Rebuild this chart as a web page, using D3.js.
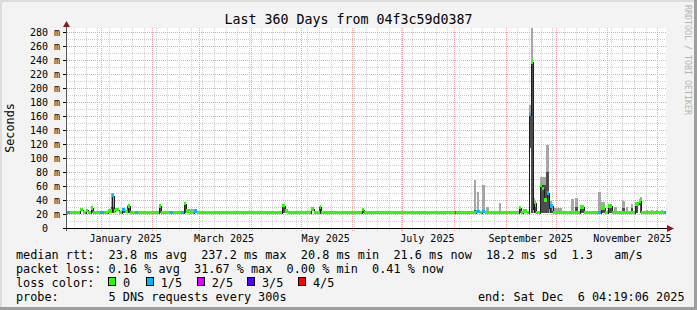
<!DOCTYPE html>
<html>
<head>
<meta charset="utf-8">
<script src="https://cdn.jsdelivr.net/npm/d3@7"></script>
<style>
  body { margin: 0; background: #fff; }
  text { font-family: "DejaVu Sans Mono", monospace; }
</style>
</head>
<body>
<svg id="chart" width="697" height="310"></svg>
<script>
// median rtt, step segments: start day (offset from graph start), value in ms, loss index
const medDay = [0, 2.4, 8.4, 10.2, 12, 13.2, 14.7, 15.9, 20.4, 22.8,
  25.2, 27.3, 28.5, 29.4, 31.8, 33.6, 35.1, 36.9, 38.1, 41.4,
  43.2, 55.8, 57, 62.4, 63.9, 69, 70.8, 72, 74.4, 76.8,
  78.3, 129.6, 131.1, 133.2, 147, 148.8, 152.1, 152.7, 177.6, 178.5,
  233.4, 234, 246, 248.1, 249.6, 251.1, 271.8, 272.7, 274.2, 276.6,
  277.8, 278.9, 280, 280.8, 282, 284.4, 285.6, 286.8, 288.3, 289.5,
  290.4, 291.9, 308.4, 310.8, 318.9, 320.7, 323.4, 325.2, 327.6, 341.4,
  343.5, 345, 358.5];
const medVal = [22, 22, 26, 22, 25, 22, 28, 22, 22, 22,
  24, 46, 24, 26, 22, 26, 23, 31, 22, 22,
  22, 31, 22, 22, 22, 22, 35, 24, 22, 24,
  22, 32, 24, 22, 27, 22, 30, 22, 26, 22,
  22, 22, 23, 22, 23, 22, 29, 22, 24, 22,
  162, 237, 23, 36, 22, 61, 56, 40, 50, 24,
  31, 22, 30, 22, 22, 28, 22, 31, 22, 34,
  38, 22, 22];
const medLoss = [1, 0, 0, 0, 0, 0, 0, 0, 1, 0,
  0, 1, 0, 0, 0, 1, 0, 0, 0, 1,
  0, 0, 0, 1, 0, 1, 0, 0, 0, 1,
  0, 0, 0, 0, 0, 0, 0, 0, 0, 0,
  2, 0, 1, 0, 1, 0, 0, 0, 0, 0,
  1, 0, 0, 0, 0, 0, 0, 0, 1, 0,
  1, 0, 0, 0, 1, 0, 0, 0, 0, 0,
  0, 0, 1];

// smoke: start day, length in days, low ping, top of dark part, top of light part (ms)
const smokeDay = [14.7, 27, 33.6, 36.6, 55.8, 70.8, 72, 79.2, 83.4, 97.2,
  108, 117.6, 129.6, 134.4, 139.8, 151.8, 158.4, 167.4, 177.3, 183,
  204.6, 207.6, 217.8, 225.6, 233.4, 239.4, 243.6, 244.5, 246.6, 249.6,
  252, 254.4, 259.8, 262.8, 271.5, 274.2, 277.8, 278.9, 280, 281.4,
  284.4, 288, 289.8, 291.6, 302.7, 305.4, 308.4, 319.2, 321, 325.2,
  328.8, 333.6, 336, 339, 341.4, 344.4, 348, 351, 354, 357];
const smokeLen = [1.2, 1.8, 1.8, 1.5, 1.2, 1.2, 6, 3.6, 4.8, 1.2,
  1.2, 1.2, 1.8, 1.2, 0.9, 0.9, 1.2, 1.2, 1.2, 1.2,
  1.2, 1.2, 1.2, 1.2, 1.2, 1.2, 1.2, 1.5, 1.2, 1.5,
  1.5, 2.4, 1.2, 3.6, 1.2, 1.8, 1.1, 1.1, 1.5, 0.9,
  3.6, 1.8, 1.8, 6, 1.8, 1.8, 2.4, 1.5, 2.4, 2.4,
  1.8, 1.5, 1.2, 1.2, 1.8, 1.2, 1.2, 1.2, 1.2, 1.2];
const smokeLo = [21, 21, 21, 21, 21, 21, 21, 21, 21, 21,
  21, 21, 21, 21, 21, 21, 21, 21, 21, 21,
  21, 21, 21, 21, 21, 21, 21, 21, 21, 21,
  21, 21, 21, 21, 21, 21, 115, 21, 28, 21,
  21, 21, 21, 21, 21, 21, 21, 21, 21, 21,
  21, 21, 21, 21, 21, 21, 21, 21, 21, 21];
const smokeMid = [28, 30, 26, 31, 31, 35, 24, 22, 22, 22,
  22, 22, 31, 22, 25, 30, 22, 22, 26, 22,
  22, 22, 22, 22, 22, 22, 24, 26, 26, 26,
  24, 22, 25, 22, 30, 25, 162, 240, 38, 30,
  62, 80, 33, 25, 25, 30, 31, 25, 30, 30,
  24, 28, 24, 28, 33, 38, 22, 22, 22, 22];
const smokeTop = [30, 50, 29, 33, 33, 37, 27, 25, 25, 24.5,
  24.5, 24.5, 33, 24.5, 25, 31, 24.5, 24.5, 27, 24.5,
  24.5, 24.5, 24.5, 24.5, 24.5, 24.5, 25, 69, 51, 61,
  30, 25, 36, 25, 31, 27, 176, 286, 43, 36,
  73, 119, 38, 28, 41, 43, 33, 51, 37, 33,
  30, 39, 30, 34, 36, 44, 26, 26, 26, 26];

const lossColors = ["#26ff00", "#00b8ff", "#dd00ff", "#5500ff", "#ff0000"];
const lossLabels = ["0", "1/5", "2/5", "3/5", "4/5"];
const yTicks = [20, 40, 60, 80, 100, 120, 140, 160, 180, 200, 220, 240, 260, 280];

const W = 697, H = 310;
const pL = 66, pR = 666, pT = 28, pB = 228;

const endTime = new Date(2025, 11, 6, 4, 19, 6);
const startTime = new Date(endTime.getTime() - 360 * 864e5);
const dayDate = d => new Date(startTime.getTime() + d * 864e5);

const x = d3.scaleTime().domain([startTime, endTime]).range([pL, pR]);
const y = d3.scaleLinear().domain([0, 200 / 0.7]).range([pB, pT]);

const svg = d3.select("#chart");

// background + 3d frame
svg.append("rect").attr("width", W).attr("height", H).attr("fill", "#f3f3f3");
svg.append("rect").attr("x", 0).attr("y", 0).attr("width", W).attr("height", 2).attr("fill", "#dcdcdc");
svg.append("rect").attr("x", 0).attr("y", 0).attr("width", 2).attr("height", H).attr("fill", "#dcdcdc");
svg.append("rect").attr("x", W - 3).attr("y", 0).attr("width", 3).attr("height", H).attr("fill", "#9e9e9e");
svg.append("rect").attr("x", 0).attr("y", H - 3).attr("width", W).attr("height", 3).attr("fill", "#9e9e9e");

svg.append("rect").attr("x", pL).attr("y", pT).attr("width", pR - pL).attr("height", pB - pT).attr("fill", "#fff");

// grid
const grid = svg.append("g").attr("shape-rendering", "crispEdges");
const minorY = d3.range(10, 286, 20);
grid.selectAll(".hmin").data(minorY).join("line")
  .attr("x1", pL).attr("x2", pR)
  .attr("y1", d => Math.round(y(d)) + 0.5).attr("y2", d => Math.round(y(d)) + 0.5)
  .attr("stroke", "#cfcfcf").attr("stroke-dasharray", "1,1");
const weeks = d3.timeMonday.range(startTime, endTime);
grid.selectAll(".vmin").data(weeks).join("line")
  .attr("x1", d => Math.round(x(d)) + 0.5).attr("x2", d => Math.round(x(d)) + 0.5)
  .attr("y1", pT).attr("y2", pB + 3)
  .attr("stroke", "#cfcfcf").attr("stroke-dasharray", "1,1");
grid.selectAll(".hmaj").data(yTicks).join("line")
  .attr("x1", pL - 3).attr("x2", pR)
  .attr("y1", d => Math.round(y(d)) + 0.5).attr("y2", d => Math.round(y(d)) + 0.5)
  .attr("stroke", "#f2a0a0").attr("stroke-dasharray", "1,1");
const months = d3.timeMonth.range(startTime, endTime);
grid.selectAll(".vmaj").data(months).join("line")
  .attr("x1", d => Math.round(x(d)) + 0.5).attr("x2", d => Math.round(x(d)) + 0.5)
  .attr("y1", pT).attr("y2", pB + 3)
  .attr("stroke", "#f2a0a0").attr("stroke-dasharray", "1,1");

// plot marks
svg.append("clipPath").attr("id", "plotclip").append("rect")
  .attr("x", pL).attr("y", pT - 2).attr("width", pR - pL).attr("height", pB - pT + 2);
const plot = svg.append("g").attr("clip-path", "url(#plotclip)").attr("shape-rendering", "crispEdges");

const smoke = d3.range(smokeDay.length);
plot.selectAll(".smoke").data(smoke).join("rect")
  .attr("x", i => x(dayDate(smokeDay[i])))
  .attr("width", i => x(dayDate(smokeDay[i] + smokeLen[i])) - x(dayDate(smokeDay[i])))
  .attr("y", i => y(smokeTop[i]))
  .attr("height", i => y(smokeLo[i]) - y(smokeTop[i]))
  .attr("fill", "#a6a6a6");
plot.selectAll(".smokedark").data(smoke).join("rect")
  .attr("x", i => x(dayDate(smokeDay[i])))
  .attr("width", i => x(dayDate(smokeDay[i] + smokeLen[i])) - x(dayDate(smokeDay[i])))
  .attr("y", i => y(smokeMid[i]))
  .attr("height", i => y(smokeLo[i]) - y(smokeMid[i]))
  .attr("fill", "#4d4d4d");

// median line (step)
const pts = medDay.map((d, i) => [d, medVal[i]]);
pts.push([360, medVal[medVal.length - 1]]);
const line = d3.line()
  .x(d => Math.round(x(dayDate(d[0]))) + 0.5)
  .y(d => Math.round(y(d[1])) + 0.5)
  .curve(d3.curveStepAfter);
plot.append("path").attr("d", line(pts))
  .attr("fill", "none").attr("stroke", "#1e1e1e").attr("stroke-width", 1);

// loss colour band around the median
const segs = d3.range(medDay.length);
plot.selectAll(".loss").data(segs).join("rect")
  .attr("x", i => x(dayDate(medDay[i])))
  .attr("width", i => x(dayDate(i + 1 < medDay.length ? medDay[i + 1] : 360)) - x(dayDate(medDay[i])))
  .attr("y", i => y(medVal[i]) - 2)
  .attr("height", 3.5)
  .attr("fill", i => lossColors[medLoss[i]]);

// axes
const ax = svg.append("g").attr("shape-rendering", "crispEdges");
ax.append("line").attr("x1", pL + 0.5).attr("x2", pL + 0.5).attr("y1", 24).attr("y2", pB + 3)
  .attr("stroke", "#555");
ax.append("line").attr("x1", pL - 3).attr("x2", 670).attr("y1", pB + 0.5).attr("y2", pB + 0.5)
  .attr("stroke", "#000");
ax.selectAll(".ytick").data([0].concat(yTicks)).join("line")
  .attr("x1", pL - 3).attr("x2", pL)
  .attr("y1", d => Math.round(y(d)) + 0.5).attr("y2", d => Math.round(y(d)) + 0.5)
  .attr("stroke", "#000");
svg.append("path").attr("d", `M${pL - 3},27 L${pL + 0.5},21 L${pL + 4},27 Z`).attr("fill", "#8b1a1a");
svg.append("path").attr("d", `M667,${pB - 3} L674,${pB + 0.5} L667,${pB + 4} Z`).attr("fill", "#8b1a1a");

// y labels
svg.selectAll(".ylab").data(yTicks).join("text")
  .attr("x", 60).attr("y", d => y(d) + 3.5)
  .attr("text-anchor", "end").attr("font-size", "10px").attr("fill", "#000")
  .text(d => d + " m");
svg.append("text").attr("x", 48).attr("y", y(0) + 3.5)
  .attr("text-anchor", "end").attr("font-size", "10px").text("0");

// x labels, centred half a month after each label month
const labMonths = d3.timeMonth.every(2).range(startTime, endTime)
  .filter(m => d3.timeDay.offset(m, 15) <= d3.timeDay.offset(endTime, -15));
svg.selectAll(".xlab").data(labMonths).join("text")
  .attr("x", d => x(d3.timeDay.offset(d, 15)))
  .attr("y", 241.5)
  .attr("text-anchor", "middle").attr("font-size", "10px")
  .text(d3.timeFormat("%B %Y"));

// title and axis titles
svg.append("text").attr("x", 348.5).attr("y", 24)
  .attr("text-anchor", "middle").attr("font-size", "13.3px")
  .text("Last 360 Days from 04f3c59d0387");
svg.append("text").attr("transform", "translate(14,128) rotate(-90)")
  .attr("text-anchor", "middle").attr("font-size", "11.8px")
  .text("Seconds");
svg.append("text").attr("transform", "translate(685,5) rotate(90)")
  .attr("font-size", "8.3px").attr("fill", "#b4b4b4")
  .text("RRDTOOL / TOBI OETIKER");

// legend
const lg = svg.append("g").attr("font-size", "11.84px").attr("fill", "#000");
const rows = [
  "median rtt:  23.8 ms avg  237.2 ms max  20.8 ms min  21.6 ms now  18.2 ms sd  1.3   am/s",
  "packet loss: 0.16 % avg  31.67 % max  0.00 % min  0.41 % now",
  "loss color:",
  "probe:       5 DNS requests every 300s"
];
lg.selectAll(".row").data(rows).join("text")
  .attr("x", 16).attr("y", (d, i) => 258.5 + i * 14)
  .attr("xml:space", "preserve").style("white-space", "pre")
  .text(d => d);
lg.append("text").attr("x", 478).attr("y", 300.5)
  .attr("xml:space", "preserve").style("white-space", "pre")
  .text("end: Sat Dec  6 04:19:06 2025");

const boxX = [108, 145.7, 196.7, 247, 298];
lossLabels.forEach((l, i) => {
  lg.append("rect").attr("x", Math.round(boxX[i]) + 0.5).attr("y", 277.5)
    .attr("width", 7).attr("height", 8)
    .attr("fill", lossColors[i]).attr("stroke", "#000").attr("shape-rendering", "crispEdges");
  lg.append("text").attr("x", boxX[i] + 15).attr("y", 286.5).text(l);
});
</script>
</body>
</html>
